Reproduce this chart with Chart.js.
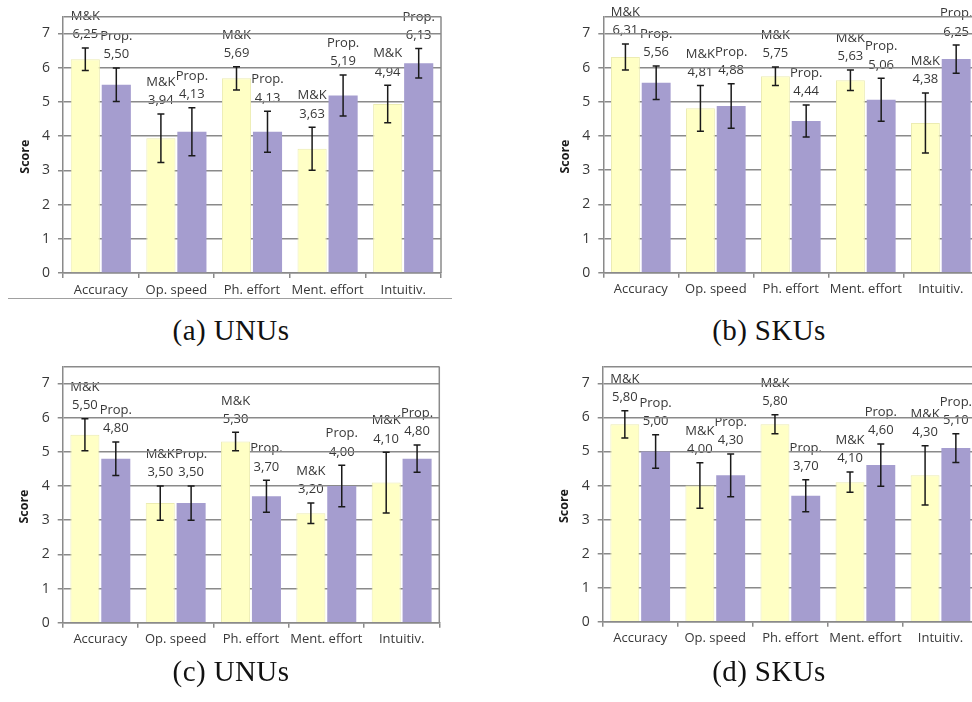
<!DOCTYPE html>
<html><head><meta charset="utf-8">
<script src="https://cdn.jsdelivr.net/npm/chart.js@4.4.0/dist/chart.umd.min.js"></script>
<style>
html,body{margin:0;padding:0;background:#fff;}
#page{position:relative;width:972px;height:702px;overflow:hidden;background:#fff;}
#page canvas{position:absolute;}
.cap{position:absolute;font-family:"Liberation Serif",serif;font-size:29px;line-height:29px;color:#111;white-space:nowrap;text-align:center;width:200px;letter-spacing:0.4px;}
.rule{position:absolute;height:1px;background:#a0a0a0;}
</style></head><body>
<div id="page">
<canvas id="ca" width="460" height="298" style="left:0px;top:0px"></canvas>
<canvas id="cb" width="500" height="310" style="left:490px;top:0px"></canvas>
<canvas id="cc" width="460" height="352" style="left:0px;top:350px"></canvas>
<canvas id="cd" width="500" height="352" style="left:490px;top:350px"></canvas>
<div class="rule" style="left:8px;top:298px;width:444px;"></div>
<div class="cap" style="left:131px;top:316px;">(a) UNUs</div>
<div class="cap" style="left:669px;top:316px;">(b) SKUs</div>
<div class="cap" style="left:131px;top:657px;">(c) UNUs</div>
<div class="cap" style="left:669px;top:657px;">(d) SKUs</div>
</div>
<script>
// ---- data ----
const categories = ['Accuracy', 'Op. speed', 'Ph. effort', 'Ment. effort', 'Intuitiv.'];
const seriesNames = ['M&K', 'Prop.'];
const yTickValues = [0, 1, 2, 3, 4, 5, 6, 7];
const yTop = 7.5;

// (a) UNUs
const aMK = [6.25, 3.94, 5.69, 3.63, 4.94];
const aMKErr = [0.33, 0.71, 0.34, 0.63, 0.55];
const aProp = [5.50, 4.13, 4.13, 5.19, 6.13];
const aPropErr = [0.49, 0.70, 0.60, 0.60, 0.43];
// (b) SKUs
const bMK = [6.31, 4.81, 5.75, 5.63, 4.38];
const bMKErr = [0.38, 0.67, 0.27, 0.30, 0.88];
const bProp = [5.56, 4.88, 4.44, 5.06, 6.25];
const bPropErr = [0.49, 0.65, 0.47, 0.63, 0.41];
// (c) UNUs
const cMK = [5.50, 3.50, 5.30, 3.20, 4.10];
const cMKErr = [0.47, 0.50, 0.27, 0.30, 0.89];
const cProp = [4.80, 3.50, 3.70, 4.00, 4.80];
const cPropErr = [0.49, 0.50, 0.47, 0.61, 0.40];
// (d) SKUs
const dMK = [5.80, 4.00, 5.80, 4.10, 4.30];
const dMKErr = [0.40, 0.67, 0.28, 0.30, 0.87];
const dProp = [5.00, 4.30, 3.70, 4.60, 5.10];
const dPropErr = [0.49, 0.63, 0.47, 0.62, 0.42];

// ---- styles ----
const FONT = '"Open Sans", "DejaVu Sans", sans-serif';
const TXT = '#383838';
const GRID = '#8a8a8a';
const YELLOW = '#FFFFC5';
const YELLOW_EDGE = '#ECECB2';
const PURPLE = '#A59DCF';

function fmt(v) { return v.toFixed(2).replace('.', ','); }

function makePanel(canvasId, area, mk, mkErr, prop, propErr) {
  const cv = document.getElementById(canvasId);
  const boxLeft = parseFloat(cv.style.left), boxTop = parseFloat(cv.style.top);
  const yW = area.L - boxLeft;
  const padTop = area.T - boxTop;
  const padRight = boxLeft + cv.width - area.R;
  const xH = boxTop + cv.height - area.B;
  const errs = [mkErr, propErr];

  const deco = {
    id: 'deco_' + canvasId,
    beforeDraw(chart) {
      const ctx = chart.ctx, ys = chart.scales.y;
      ctx.save();
      ctx.font = '13px ' + FONT;
      ctx.fillStyle = TXT;
      ctx.textAlign = 'center';
      ctx.textBaseline = 'middle';
      chart.data.datasets.forEach((ds, di) => {
        const meta = chart.getDatasetMeta(di);
        meta.data.forEach((bar, i) => {
          const v = ds.data[i];
          const top = ys.getPixelForValue(v + errs[di][i]);
          ctx.fillText(ds.label, bar.x, top - 31.5);
          ctx.fillText(fmt(v), bar.x, top - 13.3);
        });
      });
      ctx.restore();
    },
    afterDatasetsDraw(chart) {
      const ctx = chart.ctx, ys = chart.scales.y, a = chart.chartArea;
      ctx.save();
      ctx.strokeStyle = GRID; ctx.lineWidth = 1.5;
      ctx.beginPath(); ctx.moveTo(a.right, a.top); ctx.lineTo(a.right, a.bottom); ctx.stroke();
      ctx.strokeStyle = '#1a1a1a'; ctx.lineWidth = 1.5;
      chart.data.datasets.forEach((ds, di) => {
        const meta = chart.getDatasetMeta(di);
        meta.data.forEach((bar, i) => {
          const v = ds.data[i], e = errs[di][i];
          const y1 = ys.getPixelForValue(v + e), y2 = ys.getPixelForValue(v - e);
          const x = bar.x;
          ctx.beginPath();
          ctx.moveTo(x, y1); ctx.lineTo(x, y2);
          ctx.moveTo(x - 3.5, y1); ctx.lineTo(x + 3.5, y1);
          ctx.moveTo(x - 3.5, y2); ctx.lineTo(x + 3.5, y2);
          ctx.stroke();
        });
      });
      ctx.restore();
    },
    afterDraw(chart) {
      const ctx = chart.ctx, a = chart.chartArea;
      ctx.save();
      ctx.translate(a.left - 38, (a.top + a.bottom) / 2 + 12);
      ctx.rotate(-Math.PI / 2);
      ctx.font = 'bold 12.5px ' + FONT;
      ctx.fillStyle = '#1a1a1a';
      ctx.textAlign = 'center';
      ctx.textBaseline = 'middle';
      ctx.fillText('Score', 0, 0);
      ctx.restore();
    }
  };

  return new Chart(cv, {
    type: 'bar',
    data: {
      labels: categories,
      datasets: [
        { label: seriesNames[0], data: mk, backgroundColor: YELLOW, borderColor: YELLOW_EDGE, borderWidth: 1 },
        { label: seriesNames[1], data: prop, backgroundColor: PURPLE, borderWidth: 0 }
      ]
    },
    options: {
      responsive: false,
      animation: false,
      devicePixelRatio: 1,
      layout: { padding: { left: 0, top: padTop, right: padRight, bottom: 0 } },
      plugins: { legend: { display: false }, tooltip: { enabled: false } },
      datasets: { bar: { categoryPercentage: 0.82, barPercentage: 0.94 } },
      scales: {
        x: {
          offset: true,
          grid: { offset: true, drawOnChartArea: false, drawTicks: true, tickLength: 5, color: GRID, lineWidth: 1.5 },
          border: { display: true, color: GRID, width: 1.5 },
          ticks: { font: { family: FONT, size: 13 }, color: TXT, padding: 4, maxRotation: 0, minRotation: 0, autoSkip: false },
          afterFit: s => { s.height = xH; }
        },
        y: {
          min: 0, max: yTop,
          afterBuildTicks: s => { s.ticks = yTickValues.concat([yTop]).map(v => ({ value: v })); },
          grid: {
            color: GRID, lineWidth: 1.5, tickLength: 5,
            tickColor: c => (c.tick && c.tick.value === yTop) ? 'rgba(0,0,0,0)' : GRID
          },
          border: { display: true, color: GRID, width: 1.5 },
          ticks: { font: { family: FONT, size: 14 }, color: TXT, padding: 8, callback: v => v === yTop ? '' : String(v) },
          afterFit: s => { s.width = yW; }
        }
      }
    },
    plugins: [deco]
  });
}

makePanel('ca', { L: 63, T: 13, R: 441, B: 273 }, aMK, aMKErr, aProp, aPropErr);
makePanel('cb', { L: 603.3, T: 15.5, R: 978.3, B: 272.7 }, bMK, bMKErr, bProp, bPropErr);
makePanel('cc', { L: 62.7, T: 366.2, R: 439.3, B: 622.7 }, cMK, cMKErr, cProp, cPropErr);
makePanel('cd', { L: 602.7, T: 365.7, R: 978, B: 621.7 }, dMK, dMKErr, dProp, dPropErr);
</script>
</body></html>
